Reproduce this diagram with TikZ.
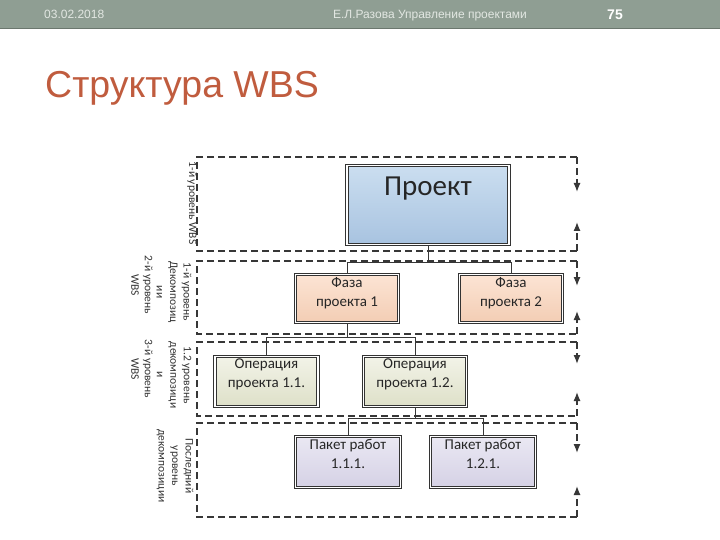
\documentclass[tikz,border=0pt]{standalone}
\usepackage{fontspec}
\setmainfont{Liberation Sans}
\newfontfamily\calfont{Carlito}
\usetikzlibrary{arrows.meta,shadows}

\definecolor{barcol}{RGB}{143,158,147}
\definecolor{hdrtext}{RGB}{226,231,226}
\definecolor{titlecol}{RGB}{192,92,62}
\definecolor{linecol}{RGB}{55,55,55}
\definecolor{projtop}{RGB}{203,222,240}
\definecolor{projbot}{RGB}{168,195,224}
\definecolor{phasetop}{RGB}{252,228,212}
\definecolor{phasebot}{RGB}{243,205,180}
\definecolor{optop}{RGB}{242,243,232}
\definecolor{opbot}{RGB}{222,224,200}
\definecolor{wptop}{RGB}{234,232,243}
\definecolor{wpbot}{RGB}{213,209,229}

\begin{document}
\begin{tikzpicture}[x=1pt,y=-1pt,
  band/.style={draw=linecol, line width=1.3pt, dash pattern=on 7pt off 4pt},
  box/.style={draw=black!80, line width=1pt, double=white, double distance=1.2pt,
    minimum width=103pt, minimum height=48pt, inner sep=0pt,
    drop shadow={shadow xshift=1.2pt, shadow yshift=-1.2pt, opacity=.25}},
  boxtext/.style={anchor=north, align=center, inner sep=1pt, yshift=-2pt,
    font=\calfont\fontsize{15}{19}\selectfont, text=black!85},
  lvl/.style={rotate=-90, align=center, font=\calfont\fontsize{11.5}{13.5}\selectfont, text=black!80},
  link/.style={draw=linecol, line width=0.7pt},
  tip/.style={-{Latex[length=9pt,width=7pt]}},
  hdr/.style={text=hdrtext, font=\fontsize{12}{14}\selectfont, anchor=base, inner sep=0pt}]
\useasboundingbox (0,0) rectangle (720,540);

% header and title
\fill[barcol] (0,0) rectangle (720,28);
\draw[barcol!75!black, line width=1pt] (0,28.5) -- (720,28.5);
\node[hdr, anchor=base west] (date) at (44,19) {03.02.2018};
\node[hdr] (author) at (430,19) {Е.Л.Разова Управление проектами};
\node[hdr, text=white, font=\bfseries\fontsize{14}{16}\selectfont] (page) at (615,20) {75};
\node[anchor=base west, inner sep=0pt, text=titlecol, font=\fontsize{37.5}{40}\selectfont] (title) at (45,98) {Структура WBS};

% level bands
\foreach \t/\b/\d/\u in {157/251/192/222, 261/334/286/311, 342/416/364/392, 423/517/453/486} {
  \draw[band] (577,\t) -- (197,\t) -- (197,\b) -- (577,\b);
  \draw[band, tip] (577,\t) -- (577,\d);
  \draw[band, tip] (577,\b) -- (577,\u);
}

% level labels
\node[lvl] (lab1) at (192,203) {1-й уровень WBS};
\node[lvl] (lab2) at (174,292) {1-й уровень\\Декомпозиц\\ии};
\node[lvl] (lab2w) at (142,285) {2-й уровень\\WBS};
\node[lvl] (lab3) at (174,375) {1.2 уровень\\декомпозици\\и};
\node[lvl] (lab3w) at (142,369) {3-й уровень\\WBS};
\node[lvl] (lab4) at (175,466) {Последний\\уровень\\декомпозиции};

% boxes
\node[box, top color=projtop, bottom color=projbot, minimum width=162pt, minimum height=79pt] (proj) at (428,205) {};
\node[anchor=north, inner sep=0pt, font=\calfont\fontsize{29}{32}\selectfont, text=black!85] (projt) at ([yshift=-12pt]proj.north) {Проект};

\node[box, top color=phasetop, bottom color=phasebot] (ph1) at (347,298.5) {};
\node[box, top color=phasetop, bottom color=phasebot] (ph2) at (511,298.5) {};
\node[boxtext] (ph1t) at (ph1.north) {Фаза\\проекта 1};
\node[boxtext] (ph2t) at (ph2.north) {Фаза\\проекта 2};

\node[box, top color=optop, bottom color=opbot, minimum height=50pt] (op1) at (266.5,381.5) {};
\node[box, top color=optop, bottom color=opbot, minimum height=50pt] (op2) at (415,381.5) {};
\node[boxtext] (op1t) at (op1.north) {Операция\\проекта 1.1.};
\node[boxtext] (op2t) at (op2.north) {Операция\\проекта 1.2.};

\node[box, top color=wptop, bottom color=wpbot, minimum width=105pt, minimum height=51pt] (wp1) at (348,462) {};
\node[box, top color=wptop, bottom color=wpbot, minimum width=105pt, minimum height=51pt] (wp2) at (483,462) {};
\node[boxtext] (wp1t) at (wp1.north) {Пакет работ\\1.1.1.};
\node[boxtext] (wp2t) at (wp2.north) {Пакет работ\\1.2.1.};

% connectors
\path (proj.south) ++(0,17.5) coordinate (j1);
\draw[link] (proj.south) -- (j1);
\draw[link] (j1) -| (ph1);
\draw[link] (j1) -| (ph2);
\path (ph1.south) ++(0,14.5) coordinate (j2);
\draw[link] (ph1.south) -- (j2);
\draw[link] (j2) -| (op1);
\draw[link] (j2) -| (op2);
\path (op2.south) ++(0,11.5) coordinate (j3);
\draw[link] (op2.south) -- (j3);
\draw[link] (j3) -| (wp1);
\draw[link] (j3) -| (wp2);
\end{tikzpicture}
\end{document}
